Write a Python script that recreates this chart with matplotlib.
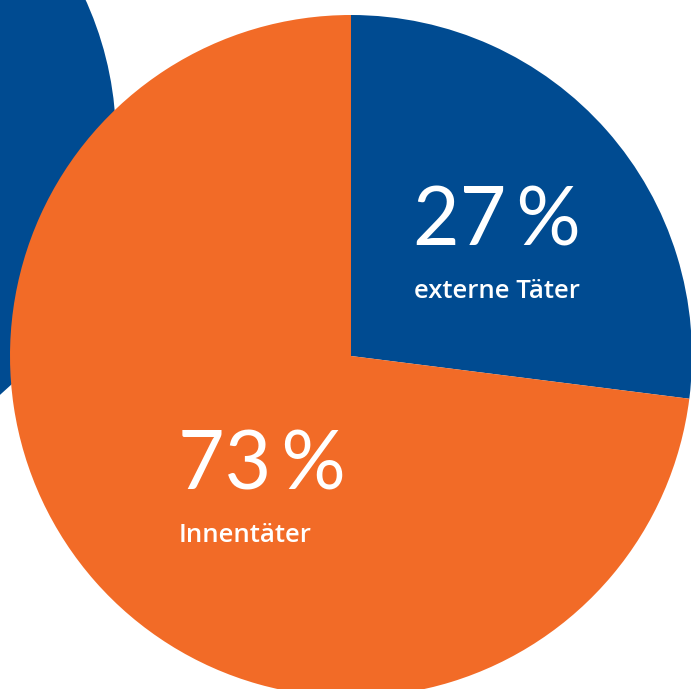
import matplotlib.pyplot as plt
from matplotlib.patches import Circle

# data
labels = ['externe Täter', 'Innentäter']
values = [27, 73]
colors = ['#004B91', '#F26B27']

W, H = 691, 689
fig = plt.figure(figsize=(W / 100, H / 100), dpi=100)
ax = fig.add_axes([0, 0, 1, 1])
ax.set_xlim(0, W)
ax.set_ylim(0, H)
ax.set_aspect('equal')
ax.axis('off')

# decorative blue circle behind the pie
ax.add_patch(Circle((-222, H - 140), 338, color=colors[0], lw=0, zorder=0))

cx, cy, r = 351, H - 356, 341
ax.pie(values, colors=colors, startangle=90, counterclock=False,
       center=(cx, cy), radius=r, wedgeprops=dict(linewidth=0))
ax.set_xlim(0, W)
ax.set_ylim(0, H)

big = dict(color='white', fontsize=58, fontfamily='Lato', fontweight='normal',
           ha='left', va='baseline')
small = dict(color='white', fontsize=18.5, fontfamily='Open Sans',
             fontweight='semibold', ha='left', va='baseline')
# big percentages and labels
ax.text(413, H - 245, f'{values[0]}\u2009%', **big)
ax.text(414, H - 298, labels[0], **small)
ax.text(178, H - 490, f'{values[1]}\u2009%', **big)
ax.text(179, H - 542, labels[1], **small)

plt.savefig('out.png', dpi=100)
